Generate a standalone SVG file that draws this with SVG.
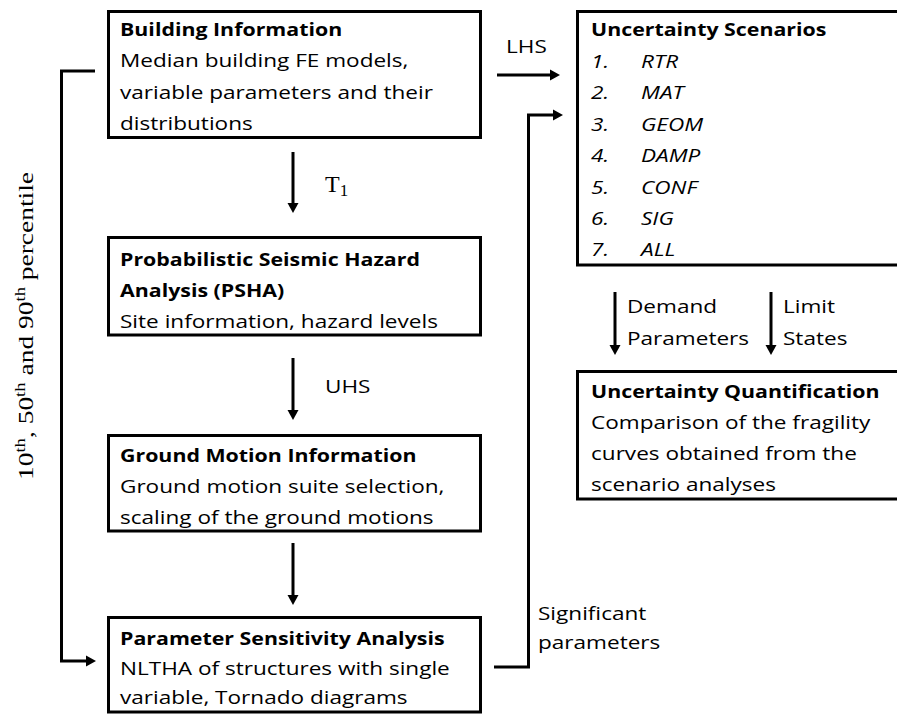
<svg xmlns="http://www.w3.org/2000/svg" width="897" height="714" viewBox="0 0 897 714">
<style>
.box{fill:#fff;stroke:#000;stroke-width:3}
.t{font-family:"Open Sans","Noto Sans","Liberation Sans",sans-serif;font-size:18.5px;fill:#000}
.b{font-weight:bold;font-size:17.5px}
.i{font-style:italic}
.c{fill:none;stroke:#000;stroke-width:3}
.s{font-family:"Liberation Serif","DejaVu Serif",serif;fill:#000}
</style>
<defs>
<marker id="ah" markerWidth="12" markerHeight="12" refX="2" refY="6" orient="auto" markerUnits="userSpaceOnUse"><path d="M0,0.5 L10,6 L0,11.5 z" fill="#000"/></marker>
</defs>
<rect width="897" height="714" fill="#fff"/>
<g id="connectors">
<path class="c" d="M293,152 V205" marker-end="url(#ah)"/>
<path class="c" d="M293,358 V412" marker-end="url(#ah)"/>
<path class="c" d="M293,543 V597" marker-end="url(#ah)"/>
<path class="c" d="M497,75 H552" marker-end="url(#ah)"/>
<path class="c" d="M494,667 H528.5 V115 H555" marker-end="url(#ah)"/>
<path class="c" d="M95,71 H61.5 V661 H88" marker-end="url(#ah)"/>
<path class="c" d="M615,292 V347" marker-end="url(#ah)"/>
<path class="c" d="M771,292 V347" marker-end="url(#ah)"/>
<text class="s" font-size="24" transform="translate(325,192)">T<tspan font-size="17" dy="4">1</tspan></text>
<text class="t" transform="translate(325,393) scale(1.22,1)">UHS</text>
<text class="t" transform="translate(506,53) scale(1.22,1)">LHS</text>
<text class="t" transform="translate(627,313) scale(1.22,1)"><tspan x="0" y="0">Demand</tspan><tspan x="0" y="32">Parameters</tspan></text>
<text class="t" transform="translate(783,313) scale(1.22,1)"><tspan x="0" y="0">Limit</tspan><tspan x="0" y="32">States</tspan></text>
<text class="t" transform="translate(538,620) scale(1.22,1)"><tspan x="0" y="0">Significant</tspan><tspan x="0" y="29">parameters</tspan></text>
<text class="s" font-size="22" transform="translate(33,480) rotate(-90)" textLength="308" lengthAdjust="spacingAndGlyphs">10<tspan font-size="15" dy="-8">th</tspan><tspan dy="8">, 50</tspan><tspan font-size="15" dy="-8">th</tspan><tspan dy="8"> and 90</tspan><tspan font-size="15" dy="-8">th</tspan><tspan dy="8"> percentile</tspan></text>
</g>
<g id="building-information">
<rect class="box" x="108.5" y="11.5" width="372" height="126"/>
<text class="t" transform="translate(120,36) scale(1.22,1)"><tspan class="b" x="0" y="0">Building Information</tspan><tspan x="0" y="31.3">Median building FE models,</tspan><tspan x="0" y="62.6">variable parameters and their</tspan><tspan x="0" y="94">distributions</tspan></text>
</g>
<g id="psha">
<rect class="box" x="108.5" y="237.5" width="372" height="97.5"/>
<text class="t" transform="translate(120,266) scale(1.22,1)"><tspan class="b" x="0" y="0">Probabilistic Seismic Hazard</tspan><tspan class="b" x="0" y="31">Analysis (PSHA)</tspan><tspan x="0" y="62">Site information, hazard levels</tspan></text>
</g>
<g id="ground-motion">
<rect class="box" x="108.5" y="435.5" width="372" height="95.5"/>
<text class="t" transform="translate(120,462) scale(1.22,1)"><tspan class="b" x="0" y="0">Ground Motion Information</tspan><tspan x="0" y="31">Ground motion suite selection,</tspan><tspan x="0" y="62">scaling of the ground motions</tspan></text>
</g>
<g id="sensitivity">
<rect class="box" x="108.5" y="617.5" width="372" height="94.5"/>
<text class="t" transform="translate(120,645) scale(1.22,1)"><tspan class="b" x="0" y="0">Parameter Sensitivity Analysis</tspan><tspan x="0" y="30">NLTHA of structures with single</tspan><tspan x="0" y="59">variable, Tornado diagrams</tspan></text>
</g>
<g id="scenarios">
<rect class="box" x="577.5" y="11.5" width="330" height="253.5"/>
<text class="t" transform="translate(591,36) scale(1.22,1)"><tspan class="b" x="0" y="0">Uncertainty Scenarios</tspan></text>
<text class="t i" transform="translate(591,68) scale(1.22,1)"><tspan x="0" y="0">1.</tspan><tspan x="0" y="31.4">2.</tspan><tspan x="0" y="62.8">3.</tspan><tspan x="0" y="94.2">4.</tspan><tspan x="0" y="125.6">5.</tspan><tspan x="0" y="157">6.</tspan><tspan x="0" y="188.4">7.</tspan></text>
<text class="t i" transform="translate(641,68) scale(1.22,1)"><tspan x="0" y="0">RTR</tspan><tspan x="0" y="31.4">MAT</tspan><tspan x="0" y="62.8">GEOM</tspan><tspan x="0" y="94.2">DAMP</tspan><tspan x="0" y="125.6">CONF</tspan><tspan x="0" y="157">SIG</tspan><tspan x="0" y="188.4">ALL</tspan></text>
</g>
<g id="quantification">
<rect class="box" x="577.5" y="371.5" width="330" height="127.5"/>
<text class="t" transform="translate(591,398) scale(1.22,1)"><tspan class="b" x="0" y="0">Uncertainty Quantification</tspan><tspan x="0" y="31">Comparison of the fragility</tspan><tspan x="0" y="62">curves obtained from the</tspan><tspan x="0" y="93">scenario analyses</tspan></text>
</g>
</svg>
